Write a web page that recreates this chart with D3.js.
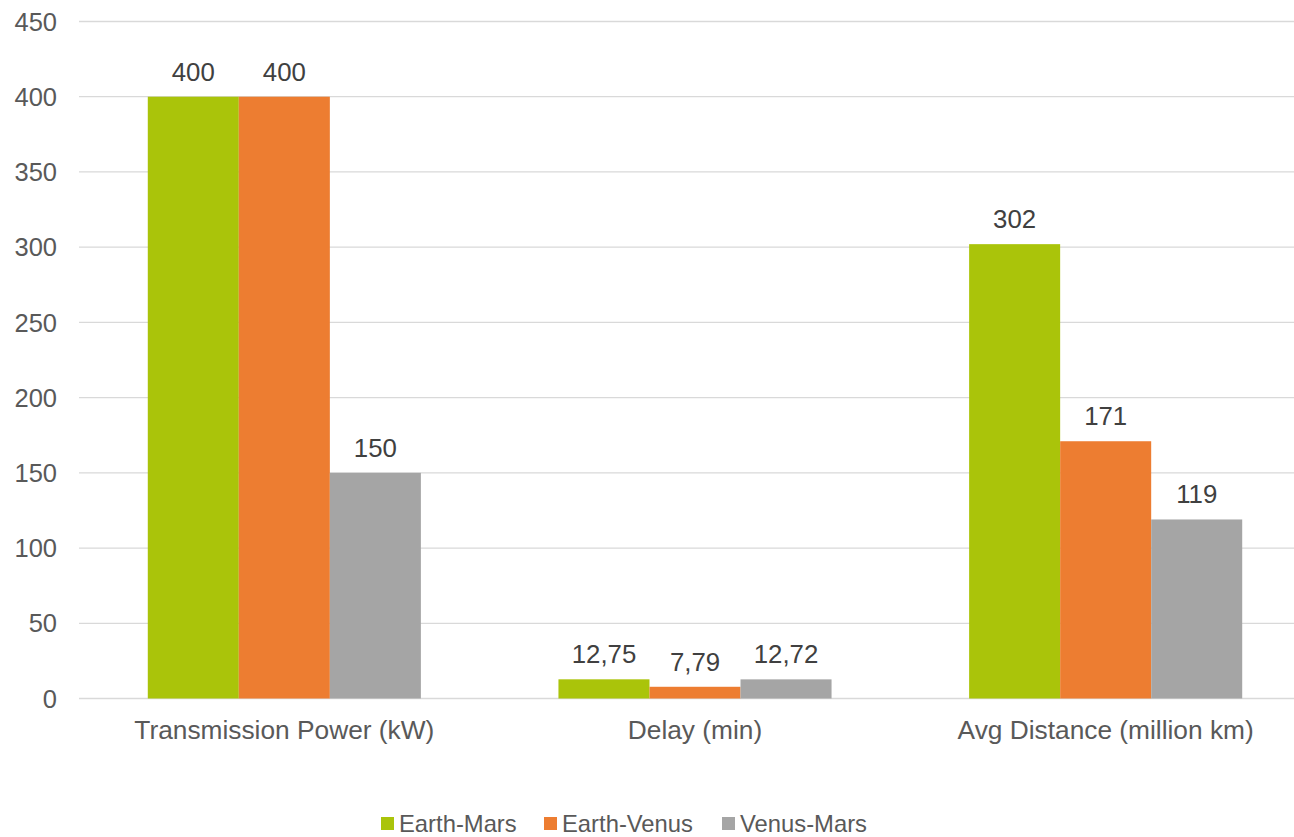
<!DOCTYPE html>
<html><head><meta charset="utf-8">
<script src="https://cdn.jsdelivr.net/npm/d3@7"></script>
<style>body{margin:0;background:#fff;} svg{display:block;}</style>
</head><body>
<svg id="chart" width="1294" height="837"></svg>
<script>
const categories = ["Transmission Power (kW)", "Delay (min)", "Avg Distance (million km)"];
const seriesNames = ["Earth-Mars", "Earth-Venus", "Venus-Mars"];
const earthMars = [400, 12.75, 302];
const earthVenus = [400, 7.79, 171];
const venusMars = [150, 12.72, 119];
const yTicks = [0, 50, 100, 150, 200, 250, 300, 350, 400, 450];
const colors = ["#AAC40A", "#ED7D31", "#A5A5A5"];

const series = [earthMars, earthVenus, venusMars];
const svg = d3.select("#chart");
const font = "Liberation Sans, Arial, sans-serif";

const x = d3.scaleBand().domain(categories).range([79, 1311]).paddingInner(0).paddingOuter(0);
const y = d3.scaleLinear().domain([0, 450]).range([698.5, 21.5]);
const groupW = x.bandwidth() * 0.665;
const xs = d3.scaleBand().domain(seriesNames).range([0, groupW]);

// gridlines
svg.append("g").selectAll("line").data(yTicks).join("line")
  .attr("x1", 79).attr("x2", 1311)
  .attr("y1", d => y(d)).attr("y2", d => y(d))
  .attr("stroke", "#D9D9D9").attr("stroke-width", 1.3);

// y tick labels
svg.append("g").selectAll("text").data(yTicks).join("text")
  .attr("x", 57).attr("y", d => y(d)).attr("dy", "0.36em")
  .attr("text-anchor", "end").attr("font-family", font).attr("font-size", 25.5)
  .attr("fill", "#595959").text(d => d);

// bars
const fmt = v => String(v).replace(".", ",");
series.forEach((vals, si) => {
  const g = svg.append("g");
  g.selectAll("rect").data(vals).join("rect")
    .attr("x", (d, i) => x(categories[i]) + (x.bandwidth() - groupW) / 2 + xs(seriesNames[si]))
    .attr("width", xs.bandwidth())
    .attr("y", d => y(d)).attr("height", d => y(0) - y(d))
    .attr("fill", colors[si]);
  g.selectAll("text").data(vals).join("text")
    .attr("x", (d, i) => x(categories[i]) + (x.bandwidth() - groupW) / 2 + xs(seriesNames[si]) + xs.bandwidth() / 2)
    .attr("y", d => y(d) - 16)
    .attr("text-anchor", "middle").attr("font-family", font).attr("font-size", 25.8)
    .attr("fill", "#404040").text(d => fmt(d));
});

// category labels
svg.append("g").selectAll("text").data(categories).join("text")
  .attr("x", d => x(d) + x.bandwidth() / 2).attr("y", 739)
  .attr("text-anchor", "middle").attr("font-family", font).attr("font-size", 26.3)
  .attr("fill", "#595959").text(d => d);

// legend
const legendX = [381, 544, 722];
const lg = svg.append("g");
seriesNames.forEach((n, i) => {
  lg.append("rect").attr("x", legendX[i]).attr("y", 817).attr("width", 13).attr("height", 13).attr("fill", colors[i]);
  lg.append("text").attr("x", legendX[i] + 18).attr("y", 832)
    .attr("font-family", font).attr("font-size", 23.8).attr("fill", "#595959").text(n);
});
</script>
</body></html>
